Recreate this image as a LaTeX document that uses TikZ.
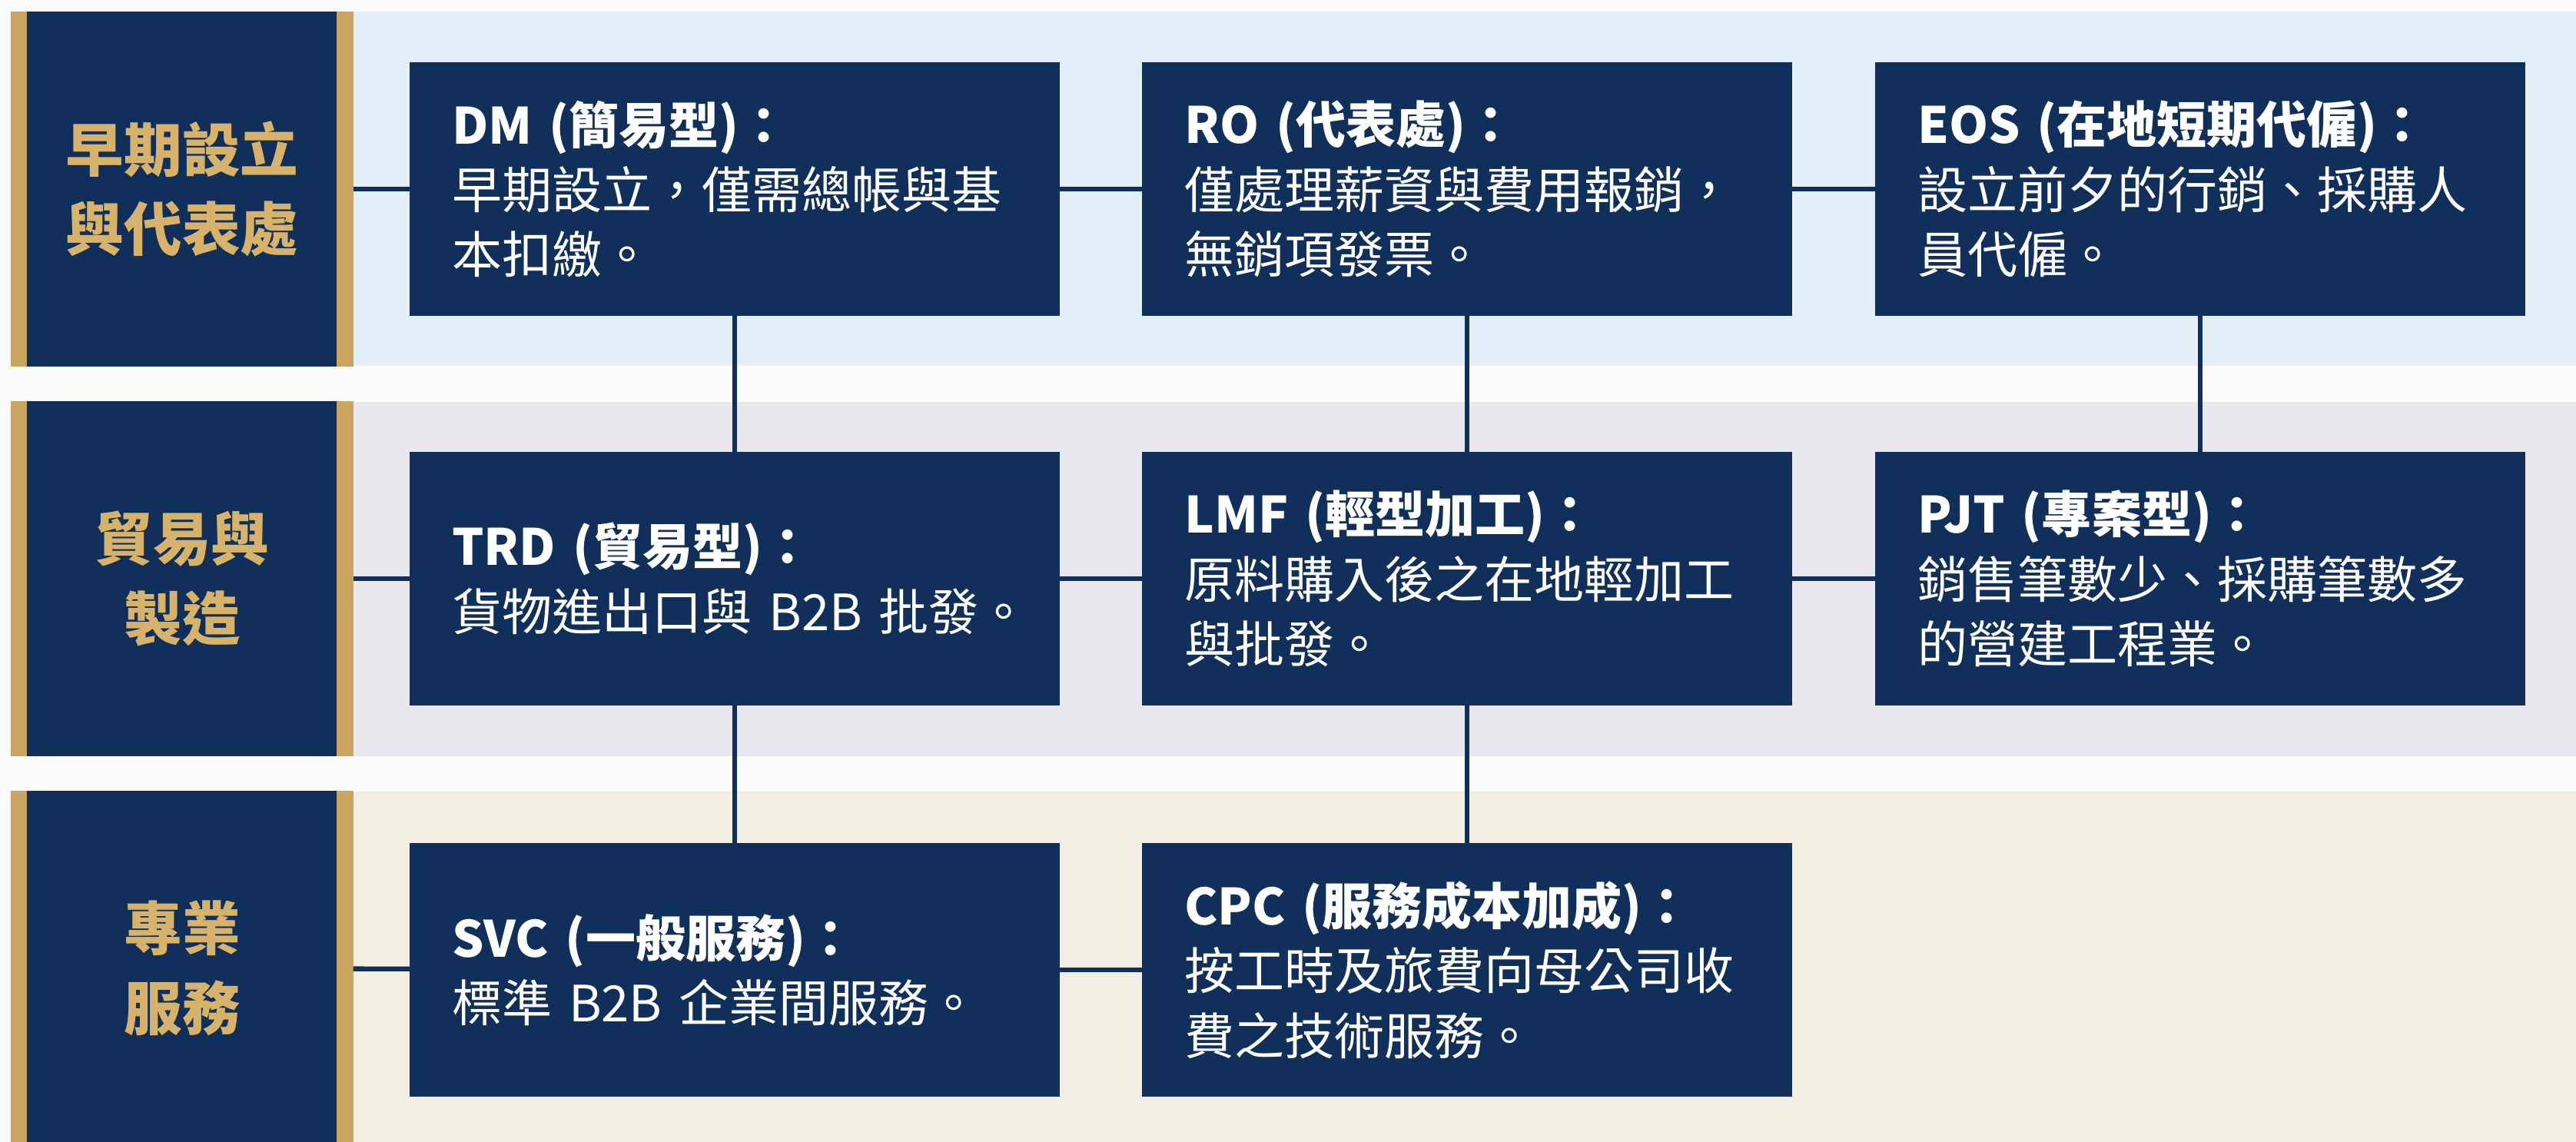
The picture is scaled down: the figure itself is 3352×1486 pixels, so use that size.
\documentclass[tikz,border=0pt]{standalone}
\usepackage{fontspec}
\setmainfont{Noto Sans CJK TC}
\usepackage{xcolor}
\definecolor{navy}{HTML}{102F5A}
\definecolor{gold}{HTML}{C9A55F}
\definecolor{goldtext}{HTML}{D6B26A}
\definecolor{bandblue}{HTML}{E3EFF9}
\definecolor{bandgray}{HTML}{E8E8EE}
\definecolor{bandsand}{HTML}{F3EEE3}
\definecolor{pagebg}{HTML}{FBFBFB}

\begin{document}
\begin{tikzpicture}[
x=0.01cm, y=-0.01cm,
line width=1.8pt,
bandlabel/.style={fill=gold, minimum width=4.45cm, minimum height=4.61cm,
  inner sep=0pt, outer sep=0pt, align=center, text=goldtext,
  font=\fontsize{21.5}{29.5}\selectfont\bfseries,
  path picture={\fill[navy] ([xshift=0.21cm]path picture bounding box.south west)
    rectangle ([xshift=-0.22cm]path picture bounding box.north east);}},
entity/.style={fill=navy, minimum height=3.3cm, text width=7.35cm,
  inner xsep=0.55cm, inner ysep=0pt, outer sep=0pt, align=left, text=white,
  font=\fontsize{18.5}{24}\selectfont},
]
\useasboundingbox (0,0) rectangle (3352,1486);

% Bands
\fill[pagebg] (0,0) rectangle (3352,1486);
\fill[bandblue] (15,15) rectangle (3352,476);
\fill[bandgray] (15,523) rectangle (3352,984);
\fill[bandsand] (15,1030) rectangle (3352,1486);

\node[bandlabel] (early) at (237,246) {早期設立\\與代表處};
\node[bandlabel] (trade) at (237,753) {貿易與\\製造};
\node[bandlabel] (prof) at (237,1260) {專業\\服務};

\node[entity] (dm) at (956,246) {\textbf{DM (簡易型)：}\\早期設立，僅需總帳與基\\本扣繳。};
\node[entity] (ro) at (1909,246) {\textbf{RO (代表處)：}\\僅處理薪資與費用報銷，\\無銷項發票。};
\node[entity] (eos) at (2863,246) {\textbf{EOS (在地短期代僱)：}\\設立前夕的行銷、採購人\\員代僱。};

\node[entity] (trd) at (956,753) {\textbf{TRD (貿易型)：}\\\mbox{貨物進出口與 B2B 批發。}};
\node[entity] (lmf) at (1909,753) {\textbf{LMF (輕型加工)：}\\原料購入後之在地輕加工\\與批發。};
\node[entity] (pjt) at (2863,753) {\textbf{PJT (專案型)：}\\銷售筆數少、採購筆數多\\的營建工程業。};

\node[entity] (svc) at (956,1262) {\textbf{SVC (一般服務)：}\\標準 B2B 企業間服務。};
\node[entity] (cpc) at (1909,1262) {\textbf{CPC (服務成本加成)：}\\按工時及旅費向母公司收\\費之技術服務。};

% Links
\draw[navy] (early) -- (dm);
\draw[navy] (dm) -- (ro);
\draw[navy] (ro) -- (eos);
\draw[navy] (trade) -- (trd);
\draw[navy] (trd) -- (lmf);
\draw[navy] (lmf) -- (pjt);
\draw[navy] (prof) -- (svc);
\draw[navy] (svc) -- (cpc);
\draw[navy] (dm) -- (trd);
\draw[navy] (trd) -- (svc);
\draw[navy] (ro) -- (lmf);
\draw[navy] (lmf) -- (cpc);
\draw[navy] (eos) -- (pjt);

\end{tikzpicture}
\end{document}
